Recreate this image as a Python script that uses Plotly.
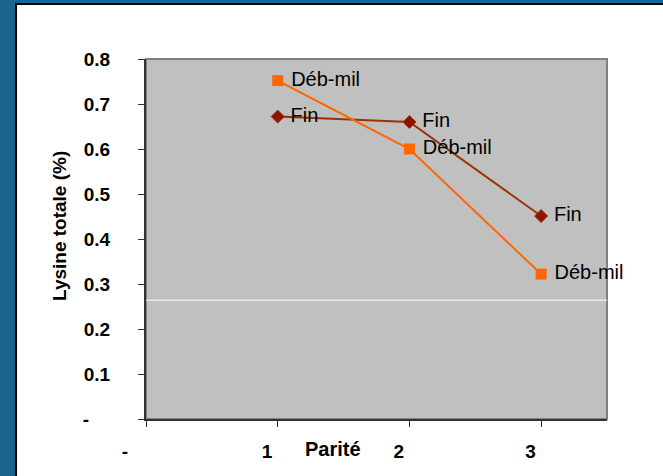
import plotly.graph_objects as go

# Lysine totale par parité, deux phases
parite = [1, 2, 3]
deb_mil = [0.752, 0.600, 0.322]
fin = [0.672, 0.660, 0.451]
label_deb = "Déb-mil"
label_fin = "Fin"

y_ticks = [0, 0.1, 0.2, 0.3, 0.4, 0.5, 0.6, 0.7, 0.8]
y_ticktext = ["-" + "\u00a0" * 4, "0.1", "0.2", "0.3", "0.4", "0.5", "0.6", "0.7", "0.8"]
x_ticks = [0, 1, 2, 3]
x_ticktext = ["-" + "\u00a0" * 8] + [str(v) + "\u00a0" * 4 for v in x_ticks[1:]]

white_line_y = 0.264

W, H = 663, 476
L, R, T, B = 146, 56, 59, 57
pw, ph = W - L - R, H - T - B

def px_x(p):
    return (p - L) / pw

def px_y(p):
    return (H - B - p) / ph

BLUE = "#1B6690"
ORANGE = "#FF6600"
BROWN = "#993300"
DARKRED = "#8B1500"
FONT = "Liberation Sans, Arial"

fig = go.Figure()

fig.add_trace(go.Scatter(
    x=parite, y=fin, mode="lines+markers+text",
    text=["\u00a0" + label_fin] * len(parite), textposition="middle right",
    textfont=dict(family=FONT, size=20, color="black"),
    line=dict(color=BROWN, width=2),
    marker=dict(symbol="diamond", size=10, color=DARKRED, line=dict(color=BROWN, width=1)),
    cliponaxis=False,
))
fig.add_trace(go.Scatter(
    x=parite, y=deb_mil, mode="lines+markers+text",
    text=["\u00a0" + label_deb] * len(parite), textposition="middle right",
    textfont=dict(family=FONT, size=20, color="black"),
    line=dict(color=ORANGE, width=2),
    marker=dict(symbol="square", size=11, color=ORANGE),
    cliponaxis=False,
))

shapes = [
    # white panel with dark border
    dict(type="rect", xref="paper", yref="paper", layer="below",
         x0=px_x(16), x1=px_x(W + 10), y0=px_y(H + 10), y1=px_y(4),
         fillcolor="white", line=dict(color="black", width=2)),
    # grey plotting area
    dict(type="rect", xref="paper", yref="paper", layer="below",
         x0=0, x1=1, y0=0, y1=1,
         fillcolor="#C0C0C0", line=dict(color="#808080", width=2)),
    # white horizontal rule
    dict(type="line", xref="paper", yref="y", layer="below",
         x0=0, x1=1, y0=white_line_y, y1=white_line_y,
         line=dict(color="white", width=1)),
]

tick_font = dict(size=19, family=FONT, color="black", weight="bold")

fig.update_layout(
    width=W, height=H,
    margin=dict(l=L, r=R, t=T, b=B, pad=0),
    paper_bgcolor=BLUE,
    plot_bgcolor="rgba(0,0,0,0)",
    showlegend=False,
    shapes=shapes,
    font=dict(family=FONT, color="black"),
    xaxis=dict(
        range=[0, 3.5], tickvals=x_ticks, ticktext=x_ticktext,
        showgrid=False, zeroline=False, automargin=False,
        showline=True, linecolor="#333333", linewidth=2,
        ticks="outside", ticklen=6, tickcolor="#333333", tickwidth=1,
        tickfont=tick_font,
        ticklabelstandoff=8,
    ),
    yaxis=dict(
        range=[0, 0.8], tickvals=y_ticks, ticktext=y_ticktext,
        showgrid=False, zeroline=False, automargin=False,
        showline=True, linecolor="#333333", linewidth=2,
        ticks="outside", ticklen=6, tickcolor="#333333", tickwidth=1,
        tickfont=tick_font,
        ticklabelstandoff=24,
    ),
    annotations=[
        dict(text="Parité", xref="x", yref="paper", x=1.42, y=px_y(449),
             xanchor="center", yanchor="middle", showarrow=False,
             font=dict(size=20, family=FONT, color="black", weight="bold")),
        dict(text="Lysine totale (%)", xref="paper", yref="paper",
             x=px_x(59), y=px_y(226), textangle=-90,
             xanchor="center", yanchor="middle", showarrow=False,
             font=dict(size=19, family=FONT, color="black", weight="bold")),
    ],
)

fig.write_html("out.html")
